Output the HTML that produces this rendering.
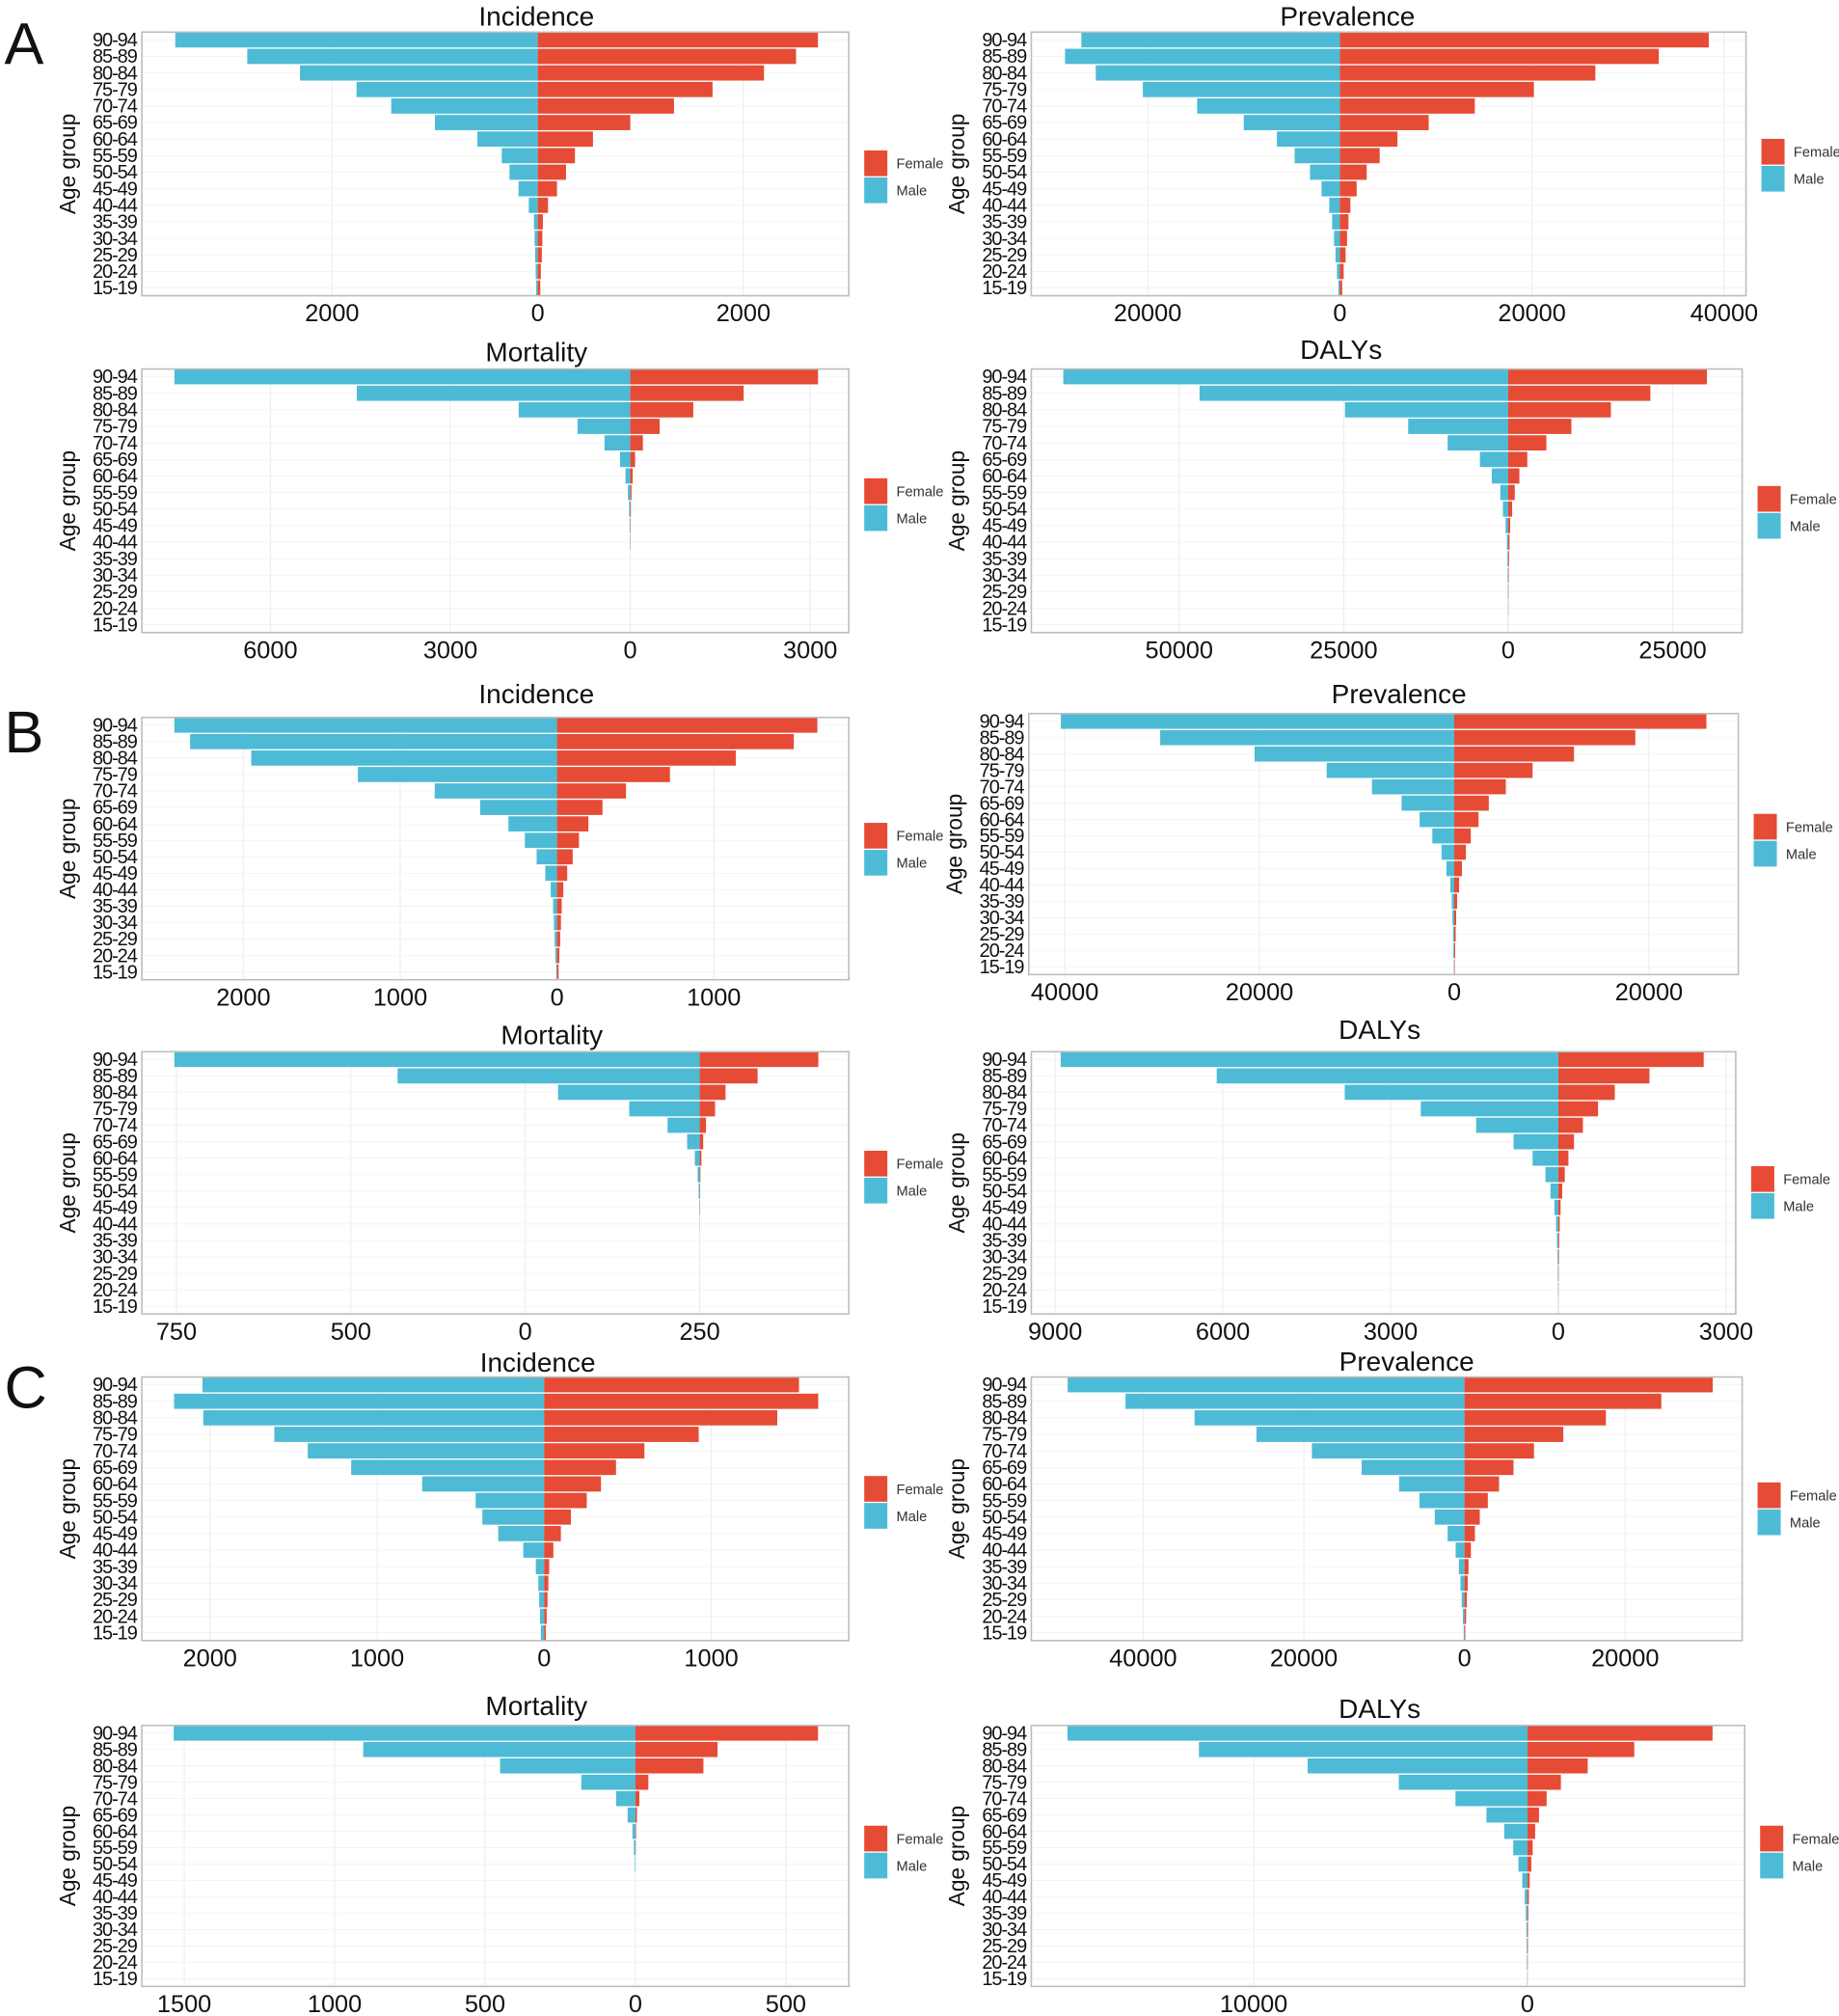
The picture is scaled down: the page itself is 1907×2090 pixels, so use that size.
<!DOCTYPE html>
<html><head><meta charset="utf-8"><style>
html,body{margin:0;padding:0;background:#fff;}
svg{display:block;font-family:"Liberation Sans",sans-serif;}
</style></head><body>
<svg id="chart" width="1907" height="2090" viewBox="0 0 1430 1568" xmlns="http://www.w3.org/2000/svg"></svg>
<script>
const ageGroups = ["90-94","85-89","80-84","75-79","70-74","65-69","60-64","55-59","50-54","45-49","40-44","35-39","30-34","25-29","20-24","15-19"];

const aIncMale = [3525,2825,2312,1762,1425,1000,587,350,275,187,87,37,30,25,20,15];
const aIncFemale = [2725,2512,2200,1700,1325,900,537,362,275,187,100,50,45,40,30,25];
const aPrevMale = [26900,28600,25400,20500,14850,10000,6550,4700,3100,1900,1100,800,600,450,300,150];
const aPrevFemale = [38400,33200,26600,20200,14050,9250,6000,4150,2800,1750,1100,900,750,600,400,250];
const aMortMale = [7600,4560,1860,880,430,170,80,40,20,10,5,0,0,0,0,0];
const aMortFemale = [3130,1890,1050,490,210,80,40,20,10,5,3,0,0,0,0,0];
const aDalyMale = [67600,46900,24800,15200,9200,4300,2500,1200,800,400,200,120,80,50,30,10];
const aDalyFemale = [30200,21600,15600,9600,5800,2900,1700,1000,600,300,200,120,80,50,30,10];

const bIncMale = [2440,2340,1950,1270,780,490,310,205,130,75,40,25,20,15,10,5];
const bIncFemale = [1660,1510,1140,720,440,290,200,140,100,65,40,30,25,20,15,10];
const bPrevMale = [40400,30200,20500,13100,8450,5400,3550,2250,1300,800,400,250,180,120,80,40];
const bPrevFemale = [25900,18600,12300,8050,5300,3550,2500,1700,1200,800,500,300,200,150,100,50];
const bMortMale = [753,433,203,101,46,18,7,3,1.5,0.5,0,0,0,0,0,0];
const bMortFemale = [170,83,37,22,9,5,2.5,1,0.5,0.3,0.2,0,0,0,0,0];
const bDalyMale = [8900,6110,3820,2460,1470,800,460,230,140,70,40,25,15,10,5,3];
const bDalyFemale = [2600,1630,1010,710,440,280,180,115,70,40,25,15,10,6,4,2];

const cIncMale = [2045,2215,2040,1615,1415,1155,730,410,370,275,125,50,35,30,25,20];
const cIncFemale = [1525,1640,1395,925,600,430,340,255,160,100,55,30,25,20,15,10];
const cPrevMale = [49400,42200,33600,25900,19000,12800,8150,5600,3700,2100,1100,700,500,350,200,100];
const cPrevFemale = [30900,24500,17600,12300,8650,6100,4300,2900,1900,1300,800,500,400,300,200,100];
const cMortMale = [1535,905,450,180,64,26,10,5,2,0,0,0,0,0,0,0];
const cMortFemale = [607,273,226,43,13,5,2,1,0,0,0,0,0,0,0,0];
const cDalyMale = [16800,12000,8030,4700,2630,1500,850,520,330,190,100,60,40,30,20,10];
const cDalyFemale = [6760,3900,2200,1220,700,420,280,190,140,80,50,30,20,15,10,5];

const aIncTicks = [-2000,0,2000];
const aIncTickLabels = ["2000","0","2000"];
const aPrevTicks = [-20000,0,20000,40000];
const aPrevTickLabels = ["20000","0","20000","40000"];
const aMortTicks = [-6000,-3000,0,3000];
const aMortTickLabels = ["6000","3000","0","3000"];
const aDalyTicks = [-50000,-25000,0,25000];
const aDalyTickLabels = ["50000","25000","0","25000"];
const bIncTicks = [-2000,-1000,0,1000];
const bIncTickLabels = ["2000","1000","0","1000"];
const bPrevTicks = [-40000,-20000,0,20000];
const bPrevTickLabels = ["40000","20000","0","20000"];
const bMortTicks = [-750,-500,-250,0];
const bMortTickLabels = ["750","500","0","250"];
const bDalyTicks = [-9000,-6000,-3000,0,3000];
const bDalyTickLabels = ["9000","6000","3000","0","3000"];
const cIncTicks = [-2000,-1000,0,1000];
const cIncTickLabels = ["2000","1000","0","1000"];
const cPrevTicks = [-40000,-20000,0,20000];
const cPrevTickLabels = ["40000","20000","0","20000"];
const cMortTicks = [-1500,-1000,-500,0,500];
const cMortTickLabels = ["1500","1000","500","0","500"];
const cDalyTicks = [-10000,0];
const cDalyTickLabels = ["10000","0"];

const NS = "http://www.w3.org/2000/svg";
const svg = document.getElementById("chart");
const RED = "#e64b35", BLUE = "#4dbbd5";

function mk(tag, attrs, parent) {
  const e = document.createElementNS(NS, tag);
  for (const k in attrs) e.setAttribute(k, attrs[k]);
  (parent || svg).appendChild(e);
  return e;
}

const panels = [
  ["a-incidence","Incidence",110,660,25,230,418,80/1000,417,12,117,aIncMale,aIncFemale,aIncTicks,aIncTickLabels],
  ["a-prevalence","Prevalence",802,1358,25,230,1042,149.5/20000,1048,12,108,aPrevMale,aPrevFemale,aPrevTicks,aPrevTickLabels],
  ["a-mortality","Mortality",110,660,287,492,490,140/3000,417,273,372,aMortMale,aMortFemale,aMortTicks,aMortTickLabels],
  ["a-dalys","DALYs",802,1355,287,492,1173,128/25000,1043,271,378,aDalyMale,aDalyFemale,aDalyTicks,aDalyTickLabels],
  ["b-incidence","Incidence",110,660,558,762,433,122/1000,417,539,640,bIncMale,bIncFemale,bIncTicks,bIncTickLabels],
  ["b-prevalence","Prevalence",800,1352,555,758,1131,151.5/20000,1088,539,633,bPrevMale,bPrevFemale,bPrevTicks,bPrevTickLabels],
  ["b-mortality","Mortality",110,660,818,1022,544,135.7/250,429,804,895,bMortMale,bMortFemale,bMortTicks,bMortTickLabels],
  ["b-dalys","DALYs",802,1350,818,1022,1212,130.5/3000,1073,800,907,bDalyMale,bDalyFemale,bDalyTicks,bDalyTickLabels],
  ["c-incidence","Incidence",110,660,1071,1276,423,130/1000,418,1059,1148,cIncMale,cIncFemale,cIncTicks,cIncTickLabels],
  ["c-prevalence","Prevalence",802,1355,1071,1276,1139,125/20000,1094,1058,1153,cPrevMale,cPrevFemale,cPrevTicks,cPrevTickLabels],
  ["c-mortality","Mortality",110,660,1342,1545,494,117/500,417,1326,1420,cMortMale,cMortFemale,cMortTicks,cMortTickLabels],
  ["c-dalys","DALYs",802,1357,1342,1545,1188,213/10000,1073,1328,1420,cDalyMale,cDalyFemale,cDalyTicks,cDalyTickLabels]
];

panels.forEach(p => {
  const [key,title,x0,x1,y0,y1,zx,k,tx,ty,ly,male,female,ticks,tickLabels] = p;
  const g = mk("g", {});
  
  
  const xs = v => zx + v * k;
  const n = ageGroups.length;
  const step = (y1 - y0 - 12) / (n - 1);
  const yc = i => y0 + 6 + i * step;
  for (let i = 0; i < ticks.length; i++) {
    const gx = xs(ticks[i]);
    const gl = mk("line", {x1:gx,x2:gx,y1:y0,y2:y1,stroke:"#ececec","stroke-width":0.8}, g);
    
    
  }
  for (let i = 0; i < n; i++) {
    const hl = mk("line", {x1:x0,x2:x1,y1:yc(i),y2:yc(i),stroke:"#f2f2f2","stroke-width":0.6}, g);
    
    
  }
  const bh = step * 0.92;
  for (let i = 0; i < n; i++) {
    const mw = male[i] * k, fw = female[i] * k;
    const mb = mk("rect", {x:zx - mw, y:yc(i) - bh/2, width:Math.max(mw,0), height:bh, fill:BLUE}, g);
    
    
    const fb = mk("rect", {x:zx, y:yc(i) - bh/2, width:Math.max(fw,0), height:bh, fill:RED}, g);
    
    
    const yl = mk("text", {x:x0 - 4, y:yc(i) + 5, "text-anchor":"end", "font-size":15, fill:"#111", "letter-spacing":"-0.8"}, g);
    yl.textContent = ageGroups[i];
    
    
  }
  const bd = mk("rect", {x:x0,y:y0,width:x1-x0,height:y1-y0,fill:"none",stroke:"#bdbdbd","stroke-width":1.2}, g);
  
  
  for (let i = 0; i < ticks.length; i++) {
    const t = mk("text", {x:xs(ticks[i]), y:y1 + 20, "text-anchor":"middle", "font-size":19, fill:"#111"}, g);
    t.textContent = tickLabels[i];
    
    
  }
  const tt = mk("text", {x:tx, y:ty + 8, "text-anchor":"middle", "font-size":21, fill:"#111"}, g);
  tt.textContent = title;
  
  
  const ymid = (y0 + y1) / 2;
  const yt = mk("text", {x:0, y:0, "text-anchor":"middle", "font-size":17, fill:"#111", transform:`translate(${x0-52},${ymid}) rotate(-90)`}, g);
  yt.textContent = "Age group";
  
  
  const lx = x1 + 12;
  const lf = mk("rect", {x:lx, y:ly, width:18, height:20, fill:RED}, g);
  
  
  const lm = mk("rect", {x:lx, y:ly + 21, width:18, height:20, fill:BLUE}, g);
  
  
  const lft = mk("text", {x:lx + 25, y:ly + 14, "font-size":11, fill:"#333"}, g);
  lft.textContent = "Female";
  
  
  const lmt = mk("text", {x:lx + 25, y:ly + 35, "font-size":11, fill:"#333"}, g);
  lmt.textContent = "Male";
  
  
});

[["A",50],["B",585],["C",1095]].forEach(([L,y]) => {
  const t = mk("text", {x:3, y:y, "font-size":46, fill:"#111"});
  t.textContent = L;
  
  
});
</script>
</body></html>
